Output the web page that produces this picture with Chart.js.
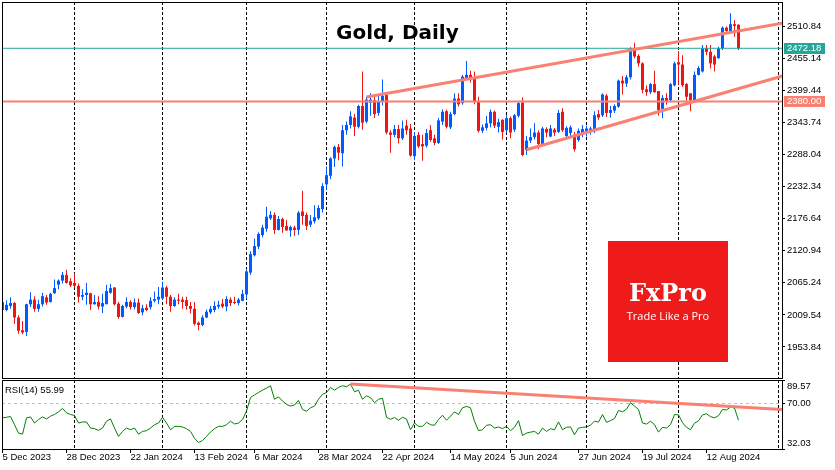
<!DOCTYPE html>
<html>
<head>
<meta charset="utf-8">
<title>Gold, Daily</title>
<script src="https://cdn.jsdelivr.net/npm/chart.js@4.4.1/dist/chart.umd.min.js"></script>
<style>
  html, body { margin: 0; padding: 0; background: #fff; }
  #wrap { position: relative; width: 835px; height: 470px; overflow: hidden; }
  canvas { position: absolute; left: 0; }
  #priceChart { top: 0; }
  #rsiChart { top: 380px; }
</style>
</head>
<body>
<div id="wrap">
  <canvas id="priceChart" width="835" height="380"></canvas>
  <canvas id="rsiChart" width="835" height="90"></canvas>
</div>
<script>
// daily bars, numbered 0..184 (5 Dec 2023 .. 22 Aug 2024)
const opens = [
  2032, 2018, 2025, 2030, 2005, 1983, 1980, 2028, 2036, 2020,
  2028, 2040, 2032, 2047, 2062, 2069, 2079, 2068, 2065, 2060,
  2041, 2044, 2047, 2028, 2032, 2024, 2028, 2048, 2057, 2029,
  2006, 2024, 2032, 2023, 2031, 2014, 2022, 2023, 2034, 2036,
  2038, 2057, 2041, 2025, 2036, 2036, 2035, 2025, 2020, 1996,
  1992, 2005, 2014, 2018, 2024, 2029, 2024, 2036, 2032, 2030,
  2034, 2045, 2083, 2113, 2128, 2148, 2159, 2177, 2183, 2157,
  2176, 2164, 2156, 2161, 2157, 2189, 2183, 2166, 2172, 2177,
  2193, 2236, 2251, 2281, 2301, 2290, 2330, 2339, 2352, 2336,
  2372, 2345, 2378, 2382, 2360, 2379, 2391, 2326, 2322, 2332,
  2316, 2338, 2333, 2285, 2322, 2306, 2303, 2330, 2316, 2308,
  2345, 2363, 2335, 2358, 2385, 2377, 2420, 2426, 2421, 2380,
  2329, 2334, 2342, 2362, 2336, 2348, 2330, 2351, 2331, 2355,
  2378, 2296, 2312, 2318, 2326, 2306, 2332, 2319, 2331, 2327,
  2362, 2320, 2325, 2322, 2313, 2325, 2326, 2328, 2330, 2358,
  2356, 2390, 2360, 2364, 2371, 2416, 2411, 2422, 2472, 2459,
  2446, 2401, 2396, 2410, 2398, 2367, 2386, 2382, 2408, 2448,
  2444, 2410, 2394, 2382, 2426, 2432, 2472, 2466, 2458, 2455,
  2472, 2508, 2502, 2514, 2513
];
const highs = [
  2035, 2035, 2040, 2032, 2009, 1999, 2029, 2049, 2042, 2036,
  2048, 2044, 2048, 2071, 2071, 2084, 2088, 2073, 2082, 2064,
  2054, 2065, 2048, 2044, 2042, 2046, 2062, 2063, 2058, 2032,
  2027, 2040, 2035, 2038, 2038, 2027, 2028, 2040, 2050, 2058,
  2067, 2060, 2044, 2040, 2046, 2041, 2041, 2032, 2032, 1998,
  2009, 2019, 2025, 2033, 2034, 2037, 2042, 2040, 2041, 2039,
  2053, 2089, 2120, 2142, 2153, 2166, 2197, 2190, 2187, 2181,
  2178, 2174, 2164, 2164, 2190, 2225, 2187, 2183, 2200, 2200,
  2238, 2267, 2283, 2303, 2306, 2339, 2345, 2363, 2358, 2374,
  2432, 2388, 2394, 2392, 2391, 2418, 2394, 2330, 2339, 2339,
  2347, 2348, 2341, 2327, 2327, 2322, 2332, 2339, 2322, 2351,
  2366, 2366, 2362, 2394, 2394, 2426, 2450, 2433, 2432, 2388,
  2340, 2355, 2366, 2364, 2350, 2349, 2356, 2354, 2358, 2380,
  2387, 2320, 2333, 2342, 2330, 2336, 2335, 2339, 2334, 2365,
  2368, 2337, 2338, 2327, 2333, 2339, 2338, 2336, 2363, 2365,
  2394, 2393, 2372, 2375, 2418, 2424, 2426, 2474, 2482, 2462,
  2448, 2408, 2412, 2433, 2398, 2391, 2394, 2412, 2449, 2467,
  2460, 2412, 2394, 2432, 2441, 2478, 2478, 2478, 2461, 2475,
  2510, 2510, 2533, 2521, 2514
];
const lows = [
  2016, 2016, 2020, 1994, 1977, 1976, 1973, 2023, 2015, 2015,
  2024, 2027, 2031, 2046, 2054, 2064, 2064, 2058, 2057, 2031,
  2035, 2027, 2018, 2027, 2019, 2013, 2028, 2046, 2026, 2003,
  2005, 2021, 2019, 2019, 2011, 2009, 2016, 2019, 2031, 2028,
  2035, 2028, 2015, 2023, 2028, 2020, 2019, 2012, 1991, 1983,
  1990, 2004, 2011, 2014, 2020, 2021, 2016, 2025, 2028, 2026,
  2033, 2037, 2079, 2111, 2124, 2144, 2154, 2174, 2150, 2156,
  2152, 2156, 2145, 2147, 2148, 2166, 2157, 2162, 2168, 2174,
  2187, 2227, 2245, 2266, 2278, 2267, 2322, 2333, 2320, 2333,
  2331, 2342, 2355, 2351, 2355, 2373, 2323, 2291, 2318, 2307,
  2313, 2322, 2284, 2278, 2299, 2277, 2300, 2310, 2304, 2306,
  2339, 2333, 2332, 2356, 2371, 2374, 2417, 2413, 2375, 2326,
  2325, 2330, 2335, 2334, 2326, 2314, 2326, 2316, 2327, 2352,
  2285, 2287, 2308, 2314, 2297, 2303, 2318, 2318, 2320, 2325,
  2327, 2318, 2320, 2293, 2310, 2318, 2319, 2322, 2325, 2348,
  2353, 2353, 2352, 2360, 2369, 2392, 2405, 2418, 2455, 2440,
  2394, 2390, 2393, 2395, 2355, 2351, 2374, 2378, 2406, 2408,
  2405, 2380, 2363, 2379, 2425, 2430, 2460, 2437, 2432, 2454,
  2469, 2501, 2501, 2492, 2469
];
const closes = [
  2018, 2027, 2030, 2005, 1982, 1979, 2028, 2036, 2020, 2028,
  2042, 2031, 2046, 2056, 2069, 2079, 2065, 2061, 2060, 2041,
  2044, 2048, 2028, 2032, 2024, 2030, 2051, 2056, 2028, 2006,
  2025, 2032, 2023, 2031, 2013, 2021, 2018, 2034, 2037, 2041,
  2057, 2041, 2025, 2036, 2034, 2032, 2025, 2020, 1994, 1992,
  2005, 2015, 2020, 2025, 2027, 2024, 2037, 2030, 2030, 2036,
  2046, 2085, 2115, 2129, 2150, 2161, 2180, 2183, 2157, 2176,
  2162, 2156, 2162, 2157, 2187, 2181, 2164, 2173, 2179, 2195,
  2233, 2252, 2281, 2301, 2291, 2330, 2339, 2354, 2336, 2372,
  2343, 2383, 2383, 2358, 2379, 2390, 2326, 2322, 2332, 2316,
  2333, 2330, 2286, 2320, 2302, 2302, 2325, 2313, 2308, 2347,
  2362, 2336, 2358, 2385, 2375, 2423, 2426, 2421, 2380, 2329,
  2335, 2342, 2362, 2338, 2344, 2327, 2351, 2326, 2356, 2377,
  2287, 2312, 2318, 2326, 2306, 2333, 2326, 2333, 2326, 2360,
  2330, 2334, 2335, 2297, 2329, 2332, 2333, 2333, 2356, 2352,
  2392, 2360, 2365, 2372, 2416, 2411, 2422, 2472, 2458, 2446,
  2400, 2396, 2410, 2396, 2365, 2386, 2380, 2410, 2446, 2444,
  2408, 2388, 2382, 2426, 2438, 2472, 2466, 2446, 2444, 2472,
  2508, 2502, 2514, 2511, 2472
];
const rsiValues = [
  58.0, 58.5, 59.1, 52.3, 45.3, 44.4, 58.0, 58.8, 53.7, 56.6,
  58.8, 57.1, 59.4, 60.8, 63.0, 65.9, 62.2, 60.8, 60.0, 53.7,
  54.6, 54.6, 49.5, 49.0, 47.5, 49.5, 55.2, 57.1, 49.5, 42.5,
  46.7, 49.5, 48.1, 49.5, 44.4, 46.7, 47.3, 49.5, 52.3, 53.7,
  58.5, 53.7, 48.1, 50.9, 50.9, 50.4, 49.0, 46.7, 41.0, 37.4,
  39.1, 42.5, 46.1, 49.0, 50.9, 50.9, 52.3, 55.2, 52.9, 53.7,
  56.6, 63.6, 74.9, 77.2, 79.1, 81.1, 82.8, 84.8, 73.5, 75.5,
  72.1, 69.3, 67.8, 68.7, 72.6, 65.0, 63.6, 66.4, 67.8, 73.5,
  77.7, 79.1, 83.4, 81.1, 83.4, 84.8, 83.9, 86.2, 79.8, 81.0,
  73.5, 76.3, 74.9, 70.7, 73.5, 74.3, 58.5, 56.8, 58.3, 56.0,
  58.5, 57.0, 48.1, 53.7, 50.9, 50.9, 54.3, 52.3, 51.8, 56.6,
  60.2, 56.0, 59.4, 63.0, 60.8, 66.4, 67.6, 66.4, 55.2, 47.3,
  48.1, 51.8, 52.3, 49.5, 50.4, 49.0, 50.9, 47.3, 50.1, 55.7,
  43.3, 45.3, 46.1, 46.7, 44.4, 49.5, 46.7, 49.0, 48.0, 54.6,
  48.1, 50.1, 50.5, 43.9, 49.5, 50.1, 50.4, 52.0, 55.2, 54.5,
  60.8, 54.3, 55.7, 57.4, 64.2, 63.0, 65.3, 70.7, 67.8, 65.0,
  53.7, 52.8, 55.2, 52.3, 46.1, 50.1, 49.5, 52.3, 60.8, 60.5,
  54.0, 50.1, 48.1, 53.5, 55.5, 60.5, 61.4, 59.0, 58.0, 59.8,
  65.0, 64.6, 67.0, 66.2, 55.99
];

const priceTicks = [1953.84, 2009.54, 2065.24, 2120.94, 2176.64, 2232.34, 2288.04, 2343.74, 2399.44, 2455.14, 2510.84];
const rsiTicks = [32.03, 70.00, 89.57];
const dateLabels = ['5 Dec 2023', '28 Dec 2023', '22 Jan 2024', '13 Feb 2024', '6 Mar 2024', '28 Mar 2024',
  '22 Apr 2024', '14 May 2024', '5 Jun 2024', '27 Jun 2024', '19 Jul 2024', '12 Aug 2024'];
const dateLabelBars = [0, 16, 32, 48, 63, 79, 95, 112, 127, 144, 160, 176];
const monthStartBars = [18, 40, 61, 81, 103, 126, 146, 169, 194];

// drawn objects
const bidPrice = 2472.18;
const levelPrice = 2380.00;
const upperChannel = [[91, 2387.6], [196, 2517.0]];
const lowerChannel = [[131, 2296.2], [196, 2426.1]];
const rsiTrend = [[87, 86.2], [196, 64.8]];
const rsiLevel = 70;

const X_MIN = -0.125, X_MAX = 194.875;
const PRICE_MIN = 1900.0, PRICE_MAX = 2552.5;
const RSI_MIN = 32.03, RSI_MAX = 89.57;

const UP = '#005aff';
const DOWN = '#ee1515';
const SALMON = '#fa8072';
const TEAL = '#26a69a';
const AXIS_FONT = { family: 'Liberation Sans, Arial, sans-serif', size: 9.5 };
const AXIS_WIDTH = 53;

const candleColors = closes.map((c, i) => c >= opens[i] ? UP : DOWN);
const toPoints = pairs => pairs.map(p => ({ x: p[0], y: p[1] }));

// no automatic label padding, the plot areas are placed by hand
function noPadding(s) {
  s.paddingTop = 0; s.paddingBottom = 0; s.paddingLeft = 0; s.paddingRight = 0;
}

// black frame around each plot area
const framePlugin = {
  id: 'frame',
  afterDatasetsDraw(chart) {
    const { ctx, chartArea: a } = chart;
    ctx.save();
    ctx.strokeStyle = '#000';
    ctx.lineWidth = 1;
    ctx.strokeRect(a.left + 0.5, a.top + 0.5, a.right - a.left, a.bottom - a.top);
    ctx.restore();
  }
};

// separators (dashed month lines), shared by both panels
function separatorAxis() {
  return {
    type: 'linear', min: X_MIN, max: X_MAX, offset: false, z: 1,
    afterBuildTicks: s => { s.ticks = monthStartBars.map(v => ({ value: v })); },
    afterFit: s => { s.height = 0; noPadding(s); },
    border: { display: false, dash: [3, 2] },
    grid: { offset: false, color: '#000', drawTicks: false, borderDash: [3, 2] },
    ticks: { display: false }
  };
}

const priceOverlay = {
  id: 'priceOverlay',
  afterDraw(chart) {
    const { ctx, chartArea: a } = chart;
    const y = chart.scales.y;
    ctx.save();

    // title
    ctx.fillStyle = '#000';
    ctx.font = 'bold 20px "DejaVu Sans", Verdana, sans-serif';
    ctx.textAlign = 'left';
    ctx.textBaseline = 'alphabetic';
    ctx.fillText('Gold, Daily', 336, 39);

    // price tags on the axis
    ctx.font = '9.5px "Liberation Sans", Arial, sans-serif';
    ctx.textBaseline = 'middle';
    [[bidPrice, TEAL], [levelPrice, SALMON]].forEach(([v, bg]) => {
      const py = Math.round(y.getPixelForValue(v));
      ctx.fillStyle = bg;
      ctx.fillRect(a.right + 2, py - 5, 41, 11);
      ctx.fillStyle = '#fff';
      ctx.fillText(v.toFixed(2), a.right + 5, py + 0.5);
    });

    // broker logo
    ctx.fillStyle = '#ef1a1a';
    ctx.fillRect(608, 241, 120, 121);
    ctx.fillStyle = '#fff';
    ctx.textAlign = 'center';
    ctx.textBaseline = 'alphabetic';
    ctx.font = 'bold 24px "DejaVu Serif", serif';
    ctx.fillText('FxPro', 668, 301);
    ctx.font = '11px "Open Sans", sans-serif';
    ctx.fillText('Trade Like a Pro', 668, 320);
    ctx.restore();
  }
};

const rsiOverlay = {
  id: 'rsiOverlay',
  afterDraw(chart) {
    const { ctx, chartArea: a } = chart;
    const y = chart.scales.y;
    ctx.save();
    ctx.fillStyle = '#000';
    ctx.font = '9.5px "Liberation Sans", Arial, sans-serif';
    ctx.textAlign = 'left';
    ctx.textBaseline = 'middle';
    ctx.fillText('RSI(14) ' + rsiValues[rsiValues.length - 1].toFixed(2), a.left + 3, a.top + 10);
    // scale labels kept inside the window like the terminal does
    rsiTicks.forEach(v => {
      let py = y.getPixelForValue(v);
      py = Math.min(Math.max(py, a.top + 6), a.bottom - 6);
      ctx.fillText(v.toFixed(2), a.right + 5, py);
    });
    ctx.restore();
  }
};

const bars = opens.map((o, i) => i);

new Chart(document.getElementById('priceChart'), {
  type: 'bar',
  data: {
    datasets: [
      {
        type: 'line', label: 'Upper channel', data: toPoints(upperChannel),
        borderColor: SALMON, borderWidth: 3, pointRadius: 0, order: 0
      },
      {
        type: 'line', label: 'Lower channel', data: toPoints(lowerChannel),
        borderColor: SALMON, borderWidth: 3, pointRadius: 0, order: 0
      },
      {
        type: 'line', label: 'Level', data: toPoints([[X_MIN, levelPrice], [X_MAX, levelPrice]]),
        borderColor: SALMON, borderWidth: 2, pointRadius: 0, order: 0
      },
      {
        type: 'line', label: 'Bid', data: toPoints([[X_MIN, bidPrice], [X_MAX, bidPrice]]),
        borderColor: TEAL, borderWidth: 1, pointRadius: 0, order: 0
      },
      {
        label: 'Bodies',
        data: bars.map(i => ({ x: i, y: [opens[i], closes[i]] })),
        backgroundColor: candleColors, barThickness: 3, minBarLength: 1,
        grouped: false, inflateAmount: 0, borderWidth: 0, order: 1
      },
      {
        label: 'Wicks',
        data: bars.map(i => ({ x: i, y: [lows[i], highs[i]] })),
        backgroundColor: candleColors, barThickness: 1,
        grouped: false, inflateAmount: 0, borderWidth: 0, order: 2
      }
    ]
  },
  options: {
    responsive: false,
    animation: false,
    events: [],
    devicePixelRatio: 1,
    layout: { padding: { left: 2, top: 2, right: 0, bottom: 2 } },
    plugins: { legend: { display: false }, tooltip: { enabled: false } },
    scales: {
      x: separatorAxis(),
      y: {
        position: 'right', min: PRICE_MIN, max: PRICE_MAX, beginAtZero: false,
        afterBuildTicks: s => { s.ticks = priceTicks.map(v => ({ value: v })); },
        afterFit: s => { s.width = AXIS_WIDTH; noPadding(s); },
        border: { display: false },
        grid: { drawOnChartArea: false, drawTicks: true, tickLength: 3, tickColor: '#000' },
        ticks: { padding: 2, color: '#000', font: AXIS_FONT, callback: v => v.toFixed(2) }
      }
    }
  },
  plugins: [framePlugin, priceOverlay]
});

new Chart(document.getElementById('rsiChart'), {
  type: 'line',
  data: {
    datasets: [
      {
        label: 'RSI trend', data: toPoints(rsiTrend),
        borderColor: SALMON, borderWidth: 3, pointRadius: 0, order: 0
      },
      {
        label: 'RSI(14)', data: rsiValues.map((v, i) => ({ x: i, y: v })),
        borderColor: '#008000', borderWidth: 1, pointRadius: 0, tension: 0, order: 1
      }
    ]
  },
  options: {
    responsive: false,
    animation: false,
    events: [],
    devicePixelRatio: 1,
    layout: { padding: { left: 2, top: 0, right: 0, bottom: 0 } },
    plugins: { legend: { display: false }, tooltip: { enabled: false } },
    scales: {
      x: separatorAxis(),
      xd: {
        type: 'linear', position: 'bottom', min: X_MIN, max: X_MAX, offset: false,
        afterBuildTicks: s => { s.ticks = dateLabelBars.map(v => ({ value: v })); },
        afterFit: s => { s.height = 21; noPadding(s); },
        border: { display: false },
        grid: { drawOnChartArea: false, drawTicks: true, tickLength: 4, tickColor: '#000', offset: false },
        ticks: {
          align: 'start', autoSkip: false, maxRotation: 0, padding: -1,
          color: '#000', font: AXIS_FONT,
          callback: (v, k) => dateLabels[k]
        }
      },
      y: {
        position: 'right', min: RSI_MIN, max: RSI_MAX,
        afterBuildTicks: s => { s.ticks = rsiTicks.map(v => ({ value: v })); },
        afterFit: s => { s.width = AXIS_WIDTH; noPadding(s); },
        border: { display: false, dash: [3, 3] },
        grid: {
          drawTicks: true, tickLength: 3, tickColor: '#000', borderDash: [3, 3],
          color: c => (c.tick && c.tick.value === rsiLevel) ? '#c0c0c0' : 'rgba(0,0,0,0)'
        },
        ticks: { display: false }
      }
    }
  },
  plugins: [framePlugin, rsiOverlay]
});
</script>
</body>
</html>
